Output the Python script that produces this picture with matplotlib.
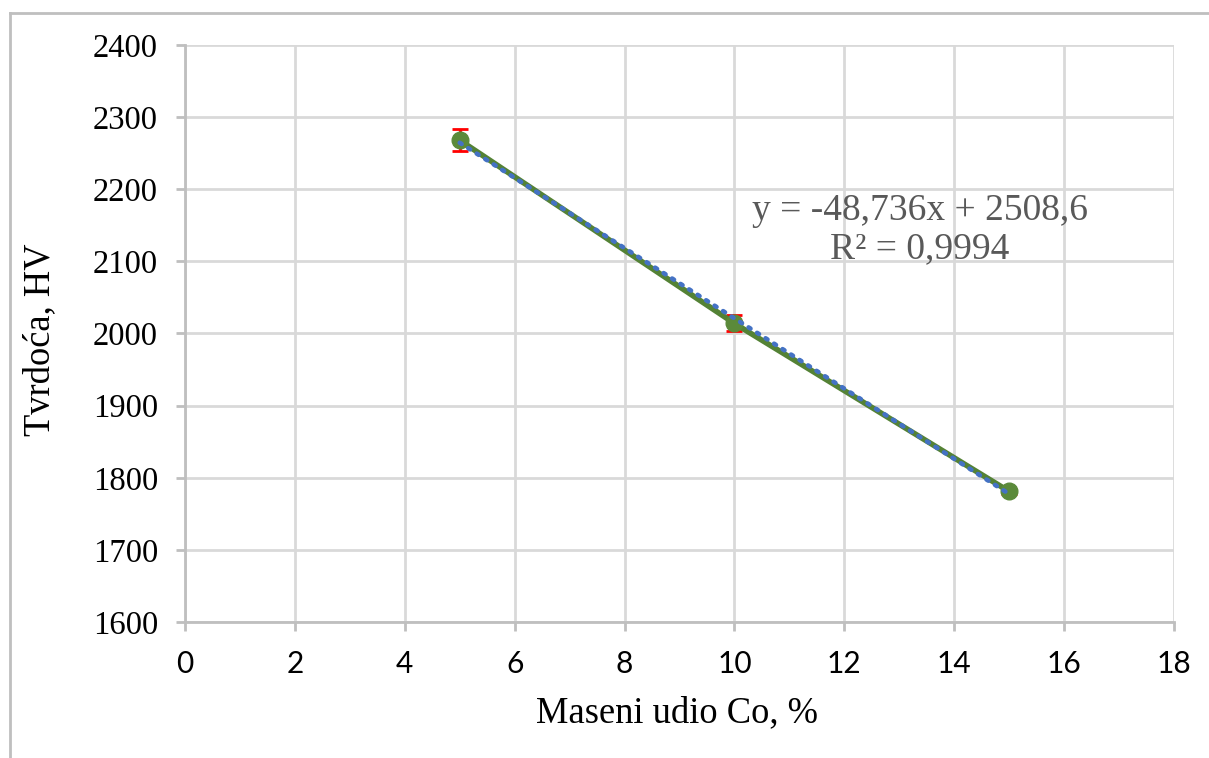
import numpy as np
import matplotlib.pyplot as plt
from matplotlib.lines import Line2D

# podaci ocitani sa slike
maseni_udio = [5, 10, 15]
tvrdoca = [2268, 2014, 1781]
greska = [15, 11, 3]
x_ticks = [0, 2, 4, 6, 8, 10, 12, 14, 16, 18]
y_ticks = [1600, 1700, 1800, 1900, 2000, 2100, 2200, 2300, 2400]

W, H = 1209, 758
fig = plt.figure(figsize=(W / 100, H / 100), dpi=100)
ax = fig.add_axes([185 / W, 1 - 622 / H, (1174 - 185) / W, (622 - 45) / H])

grid_col = '#D9D9D9'
ax.set_xlim(0, 18)
ax.set_ylim(1600, 2400)
ax.set_xticks(x_ticks)
ax.set_yticks(y_ticks)
ax.grid(True, color=grid_col, linewidth=2)
ax.set_axisbelow(True)
for s in ['top', 'right']:
    ax.spines[s].set_visible(False)
for s in ['left', 'bottom']:
    ax.spines[s].set_color('#BFBFBF')
    ax.spines[s].set_linewidth(2)
ax.tick_params(axis='both', direction='out', length=6.5, width=2, color='#BFBFBF')
ax.tick_params(axis='y', pad=13)
ax.tick_params(axis='x', pad=14)
for lbl in ax.get_yticklabels():
    lbl.set_fontfamily('Liberation Serif')
    lbl.set_fontsize(23.5)
for lbl in ax.get_xticklabels():
    lbl.set_fontfamily('Lato')
    lbl.set_fontsize(21.5)

# podaci s greskom
ax.errorbar(maseni_udio, tvrdoca, yerr=greska, color='#548235', linewidth=4,
            marker='o', markersize=12, markerfacecolor='#5B8A3A', markeredgecolor='#5B8A3A',
            ecolor='#FF0000', elinewidth=2, capsize=6, capthick=2, zorder=3)

# linearni trend
k, b = np.polyfit(maseni_udio, tvrdoca, 1)
xt = np.array([min(maseni_udio), max(maseni_udio)])
ax.plot(xt, k * xt + b, color='#4472C4', linewidth=3.3, linestyle=(0, (0.5, 1.7)),
        dash_capstyle='round', zorder=4)

fig.text(920 / W, 1 - 220 / H, 'y = -48,736x + 2508,6', ha='center', va='baseline',
         fontfamily='Liberation Serif', fontsize=27, color='#595959')
fig.text(920 / W, 1 - 258 / H, 'R² = 0,9994', ha='center', va='baseline',
         fontfamily='Liberation Serif', fontsize=27, color='#595959')

fig.text(677 / W, 1 - 713 / H, 'Maseni udio Co, %', ha='center', va='center',
         fontfamily='Liberation Serif', fontsize=26.3)
fig.text(40 / W, 1 - 340 / H, 'Tvrdoća, HV', ha='center', va='center', rotation=90,
         fontfamily='Liberation Serif', fontsize=26.3)

# okvir
fig.add_artist(Line2D([10 / W, 1], [1 - 13 / H, 1 - 13 / H], transform=fig.transFigure,
                      color='#BFBFBF', linewidth=2))
fig.add_artist(Line2D([10 / W, 10 / W], [0, 1 - 13 / H], transform=fig.transFigure,
                      color='#BFBFBF', linewidth=2))

fig.savefig('out.png', dpi=100)
